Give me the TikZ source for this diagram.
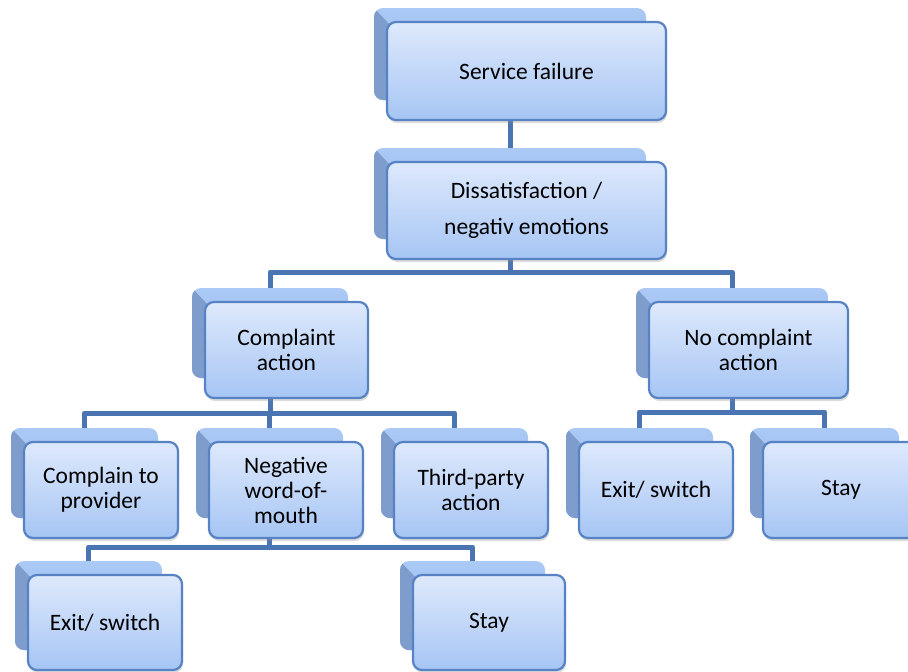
\documentclass[tikz,border=0pt]{standalone}
\usepackage{fontspec}
\setmainfont{Carlito}
\usetikzlibrary{shadows}
\pgfdeclarelayer{background}
\pgfsetlayers{background,main}

\definecolor{frontTop}{HTML}{DEE9FC}
\definecolor{frontBot}{HTML}{A6C5F4}
\definecolor{boxEdge}{HTML}{5783C4}
\definecolor{backTop}{HTML}{ABC9F5}
\definecolor{backBot}{HTML}{8FB3EA}
\definecolor{sideFace}{HTML}{7E9DCD}
\definecolor{connBlue}{HTML}{4B75B2}

\tikzset{
  frontbox/.style={draw=boxEdge, line width=2.2pt, rounded corners=9pt,
    top color=frontTop, bottom color=frontBot, inner sep=0pt, align=center,
    font=\fontsize{23.5}{25}\selectfont,
    drop shadow={fill=black!45, opacity=.3, shadow xshift=1pt, shadow yshift=-3pt}},
  backbox/.style={rounded corners=9pt, top color=backTop, bottom color=backBot,
    inner sep=0pt},
  sideface/.style={fill=sideFace},
  conn/.style={draw=connBlue, line width=5pt, line join=round},
}

% Raised box: back plate, bevelled left face, front plate with the label.
% #1 name, #2 left, #3 top, #4 right, #5 bottom (front plate), #6 label
\newcommand\tribox[6]{%
  \pgfmathsetmacro\fcx{(#2+#4)/2}%
  \pgfmathsetmacro\fcy{(#3+#5)/2}%
  \pgfmathsetmacro\fw{#4-#2}%
  \pgfmathsetmacro\fh{#5-#3}%
  \pgfmathsetmacro\bl{#2-13}%
  \pgfmathsetmacro\bt{#3-14}%
  \pgfmathsetmacro\br{#4-20}%
  \pgfmathsetmacro\bb{#5-20}%
  \pgfmathsetmacro\bcx{(\bl+\br)/2}%
  \pgfmathsetmacro\bcy{(\bt+\bb)/2}%
  \pgfmathsetmacro\bw{\br-\bl}%
  \pgfmathsetmacro\bh{\bb-\bt}%
  \pgfmathsetmacro\fin{#2+4}%
  \node[backbox, minimum width=\bw pt, minimum height=\bh pt] (#1B) at (\bcx,\bcy) {};
  \begin{scope}
    \clip[rounded corners=9pt] (\bl,\bt) rectangle (\br,\bb);
    \fill[sideface] (\bl,\bt) -- (\fin,#3+4) -- (\fin,\bb) -- (\bl,\bb) -- cycle;
  \end{scope}
  \node[frontbox, minimum width=\fw pt, minimum height=\fh pt] (#1) at (\fcx,\fcy) {#6};
}

\begin{document}
\begin{tikzpicture}[x=1pt,y=-1pt]
\useasboundingbox (0,0) rectangle (908,672);

\tribox{sf}{387}{22}{666}{120}{Service failure}
\tribox{ds}{387}{162}{666}{259}{Dissatisfaction /\\[11pt]negativ emotions}
\tribox{ca}{205}{302}{368}{398}{Complaint\\action}
\tribox{nc}{649}{302}{848}{398}{No complaint\\action}
\tribox{cp}{24}{442}{178}{538}{Complain to\\provider}
\tribox{nw}{209}{442}{363}{538}{Negative\\word-of-\\mouth}
\tribox{tp}{394}{442}{548}{538}{Third-party\\action}
\tribox{es}{579}{442}{733}{538}{Exit/ switch}
\tribox{st}{763}{442}{919}{538}{Stay}
\tribox{esb}{28}{575}{182}{670}{Exit/ switch}
\tribox{stb}{413}{575}{565}{670}{Stay}

% heights of the branching bars
\coordinate (bar1) at (0,272);
\coordinate (bar2) at (0,413);
\coordinate (bar3) at (0,412);
\coordinate (bar4) at (0,547);

\begin{pgfonlayer}{background}
  \draw[conn] (sfB.center |- sf.south) -- (dsB.north);

  \draw[conn] (dsB.center |- ds.south) -- (dsB.center |- bar1);
  \draw[conn] (caB.north) |- (ncB.center |- bar1) -- (ncB.north);

  \draw[conn] (caB.center |- ca.south) -- (caB.center |- bar2);
  \draw[conn] (cpB.north) |- (tpB.center |- bar2) -- (tpB.north);
  \draw[conn] (nwB.north) -- (nwB.center |- bar2);

  \draw[conn] (ncB.center |- nc.south) -- (ncB.center |- bar3);
  \draw[conn] (esB.north) |- (stB.center |- bar3) -- (stB.north);

  \draw[conn] (nwB.center |- nw.south) -- (nwB.center |- bar4);
  \draw[conn] (esbB.north) |- (stbB.center |- bar4) -- (stbB.north);
\end{pgfonlayer}
\end{tikzpicture}
\end{document}
